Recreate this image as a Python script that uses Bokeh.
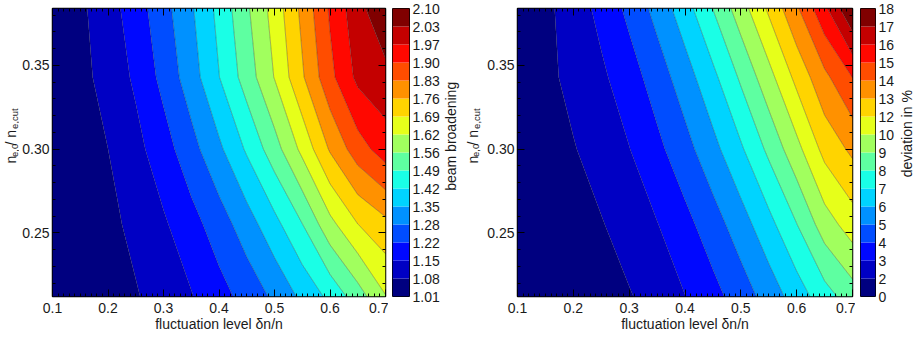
import math
import numpy as np
from bokeh.plotting import figure
from bokeh.layouts import row
from bokeh.models import (FixedTicker, LinearAxis, NumeralTickFormatter,
                          CustomJSTickFormatter, CustomLabelingPolicy)
from bokeh.core.properties import value
from bokeh.embed import file_html
from bokeh.resources import INLINE

# ---------------- data ----------------
dn = [0.10, 0.15, 0.20, 0.25, 0.30, 0.35, 0.40, 0.45, 0.50, 0.55, 0.60, 0.65, 0.70]
ne_ratio = [0.212, 0.255, 0.300, 0.343, 0.384]

# beam broadening, rows follow ne_ratio (bottom -> top), columns follow dn
broadening = [
    [1.012, 1.031, 1.052, 1.073, 1.106, 1.142, 1.189, 1.239, 1.296, 1.366, 1.436, 1.523, 1.620],
    [1.012, 1.037, 1.062, 1.094, 1.137, 1.189, 1.249, 1.318, 1.397, 1.485, 1.602, 1.690, 1.740],
    [1.015, 1.046, 1.078, 1.126, 1.185, 1.258, 1.337, 1.428, 1.526, 1.641, 1.767, 1.865, 1.930],
    [1.020, 1.058, 1.103, 1.158, 1.235, 1.319, 1.417, 1.518, 1.626, 1.751, 1.877, 1.980, 2.010],
    [1.020, 1.065, 1.117, 1.182, 1.258, 1.342, 1.438, 1.544, 1.651, 1.777, 1.905, 2.008, 2.090],
]
# deviation in %, same grid
deviation = [
    [0.47, 0.71, 0.97, 1.22, 1.48, 2.01, 2.65, 3.42, 4.31, 5.36, 6.52, 7.76, 8.80],
    [0.49, 0.81, 1.15, 1.49, 2.04, 2.63, 3.44, 4.38, 5.49, 6.75, 8.19, 9.89, 11.00],
    [0.52, 0.99, 1.49, 2.05, 2.64, 3.50, 4.49, 5.65, 6.95, 8.47, 10.09, 11.91, 12.90],
    [0.55, 1.26, 1.89, 2.47, 3.28, 4.31, 5.49, 6.83, 8.40, 10.05, 11.87, 13.50, 14.90],
    [0.60, 1.30, 2.09, 2.99, 4.06, 5.27, 6.64, 8.24, 9.93, 11.74, 13.60, 15.74, 18.20],
]

broad_min, broad_max = 1.01, 2.10
dev_min, dev_max = 0.45, 18.21
broad_labels = ["1.01", "1.08", "1.15", "1.22", "1.28", "1.35", "1.42", "1.49", "1.56",
                "1.62", "1.69", "1.76", "1.83", "1.90", "1.97", "2.03", "2.10"]
dev_labels = ["0", "2", "3", "4", "5", "6", "7", "8", "9", "10", "12", "13", "14",
              "15", "16", "17", "18"]

x_ticks = [0.1, 0.2, 0.3, 0.4, 0.5, 0.6, 0.7]
y_ticks = [0.25, 0.30, 0.35]

x_title = "fluctuation level \u03b4n/n"
y_title_parts = ["n", "e,0", " / n", "e,cut"]
broad_title = "beam broadening"
dev_title = "deviation in %"

palette = ["#000080", "#0000c4", "#0008ff", "#004dff", "#0091ff", "#00d4ff", "#1affe6",
           "#5effa1", "#a1ff5e", "#e6ff1a", "#ffd400", "#ff9100", "#ff4d00", "#ff0800",
           "#c40000", "#800000"]

FONT = "Liberation Sans"
TXT = "#1a1a1a"
H = 338
TOP, BOT = 8, 42


def style_axis(ax, ticker, labels=True):
    ax.ticker = ticker
    ax.axis_line_color = None
    ax.major_tick_in = 7
    ax.major_tick_out = 0
    ax.minor_tick_in = 3
    ax.minor_tick_out = 0
    ax.major_tick_line_color = "black"
    ax.minor_tick_line_color = "black"
    ax.major_label_text_font = FONT
    ax.major_label_text_color = TXT
    if labels:
        ax.major_label_text_font_size = "14px"
    else:
        ax.major_label_text_font_size = "0px"
        ax.major_label_standoff = 0
        ax.major_label_policy = CustomLabelingPolicy(code="return new Set()")


def main_panel(z, levels, width, left):
    p = figure(width=width, height=H, x_range=(0.1, 0.7), y_range=(0.212, 0.384),
               min_border_left=left, min_border_right=3,
               min_border_top=TOP, min_border_bottom=BOT,
               output_backend="svg", toolbar_location=None)
    p.contour(dn, ne_ratio, np.array(z), levels, fill_color=palette,
              line_color="#202020", line_alpha=0.55, line_width=0.6)
    p.grid.visible = False
    p.outline_line_color = "black"
    p.outline_line_width = 1.5

    xt = FixedTicker(ticks=x_ticks, minor_ticks=[round(v, 3) for v in np.arange(0.10, 0.7001, 0.01)])
    yt = FixedTicker(ticks=y_ticks, minor_ticks=[round(v, 3) for v in np.arange(0.22, 0.3801, 0.01)])

    xa = p.below[0]
    style_axis(xa, xt)
    xa.formatter = NumeralTickFormatter(format="0.0")
    xa.major_label_standoff = 6
    xa.axis_label = x_title
    xa.axis_label_text_font = FONT
    xa.axis_label_text_font_size = "14px"
    xa.axis_label_text_font_style = "normal"
    xa.axis_label_text_color = TXT
    xa.axis_label_standoff = 0

    ya = p.left[0]
    style_axis(ya, yt)
    ya.formatter = NumeralTickFormatter(format="0.00")
    ya.major_label_standoff = 3

    top_ax = LinearAxis()
    style_axis(top_ax, xt, labels=False)
    p.add_layout(top_ax, "above")
    right_ax = LinearAxis()
    style_axis(right_ax, yt, labels=False)
    p.add_layout(right_ax, "right")
    return p


def cbar_panel(levels, labels, width, left, frame_w):
    cb = figure(width=width, height=H, x_range=(0, 1), y_range=(levels[0], levels[-1]),
                min_border_left=left, min_border_right=width - left - frame_w,
                min_border_top=TOP, min_border_bottom=BOT,
                x_axis_location=None, y_axis_location="right",
                output_backend="svg", toolbar_location=None)
    cb.quad(left=0, right=1, bottom=list(levels[:-1]), top=list(levels[1:]),
            fill_color=palette, line_color=None)
    cb.grid.visible = False
    cb.outline_line_color = "black"
    cb.outline_line_width = 1
    ax = cb.right[0]
    ax.ticker = FixedTicker(ticks=list(levels))
    ax.formatter = CustomJSTickFormatter(
        args=dict(levels=list(levels), labels=labels),
        code="""
        let best = 0, d = 1e9;
        for (let k = 0; k < levels.length; k++) {
            const e = Math.abs(levels[k] - tick);
            if (e < d) { d = e; best = k; }
        }
        return labels[best];
        """)
    ax.axis_line_color = None
    ax.major_tick_in = 0
    ax.major_tick_out = 0
    ax.minor_tick_in = 0
    ax.minor_tick_out = 0
    ax.major_label_standoff = 3
    ax.major_label_text_font = FONT
    ax.major_label_text_font_size = "14px"
    ax.major_label_text_color = TXT
    return cb


def strip(width):
    s = figure(width=width, height=H, x_range=(0, width), y_range=(0, H),
               min_border_left=0, min_border_right=0, min_border_top=0, min_border_bottom=0,
               x_axis_location=None, y_axis_location=None,
               output_backend="svg", toolbar_location=None)
    s.grid.visible = False
    s.outline_line_color = None
    return s


def add_ylabel(s, base_x, start_y):
    # n_{e,0} / n_{e,cut}, read bottom-to-top
    sizes = [14, 9.5, 14, 9.5]
    subs = [0, 3.5, 0, 3.5]
    adv = [7.8, 13.4, 19.5, 20.6]
    y = start_y
    for txt, size, sub, a in zip(y_title_parts, sizes, subs, adv):
        s.text(x=[base_x + sub], y=[y], text=[txt], angle=math.pi / 2,
               text_font=value(FONT), text_font_size=f"{size}px", text_color=TXT,
               text_align="left", text_baseline="alphabetic")
        y += a


def add_vtitle(s, cx, cy, txt):
    s.text(x=[cx], y=[cy], text=[txt], angle=math.pi / 2,
           text_font=value(FONT), text_font_size="14px", text_color=TXT,
           text_align="center", text_baseline="middle")


broad_levels = [float(v) for v in np.linspace(broad_min, broad_max, 17)]
dev_levels = [float(v) for v in np.linspace(dev_min, dev_max, 17)]

s1 = strip(19)
add_ylabel(s1, 10.5, 156)
p1 = main_panel(broadening, broad_levels, 369, 30)
c1 = cbar_panel(broad_levels, broad_labels, 54, 4, 18)
s2 = strip(40)
add_vtitle(s2, 8, 188, broad_title)
add_ylabel(s2, 30, 156)
p2 = main_panel(deviation, dev_levels, 373, 35)
c2 = cbar_panel(dev_levels, dev_labels, 42, 5, 17)
s3 = strip(18)
add_vtitle(s3, 9, 191, dev_title)

layout = row(s1, p1, c1, s2, p2, c2, s3)
open("out.html", "w").write(file_html(layout, INLINE))
